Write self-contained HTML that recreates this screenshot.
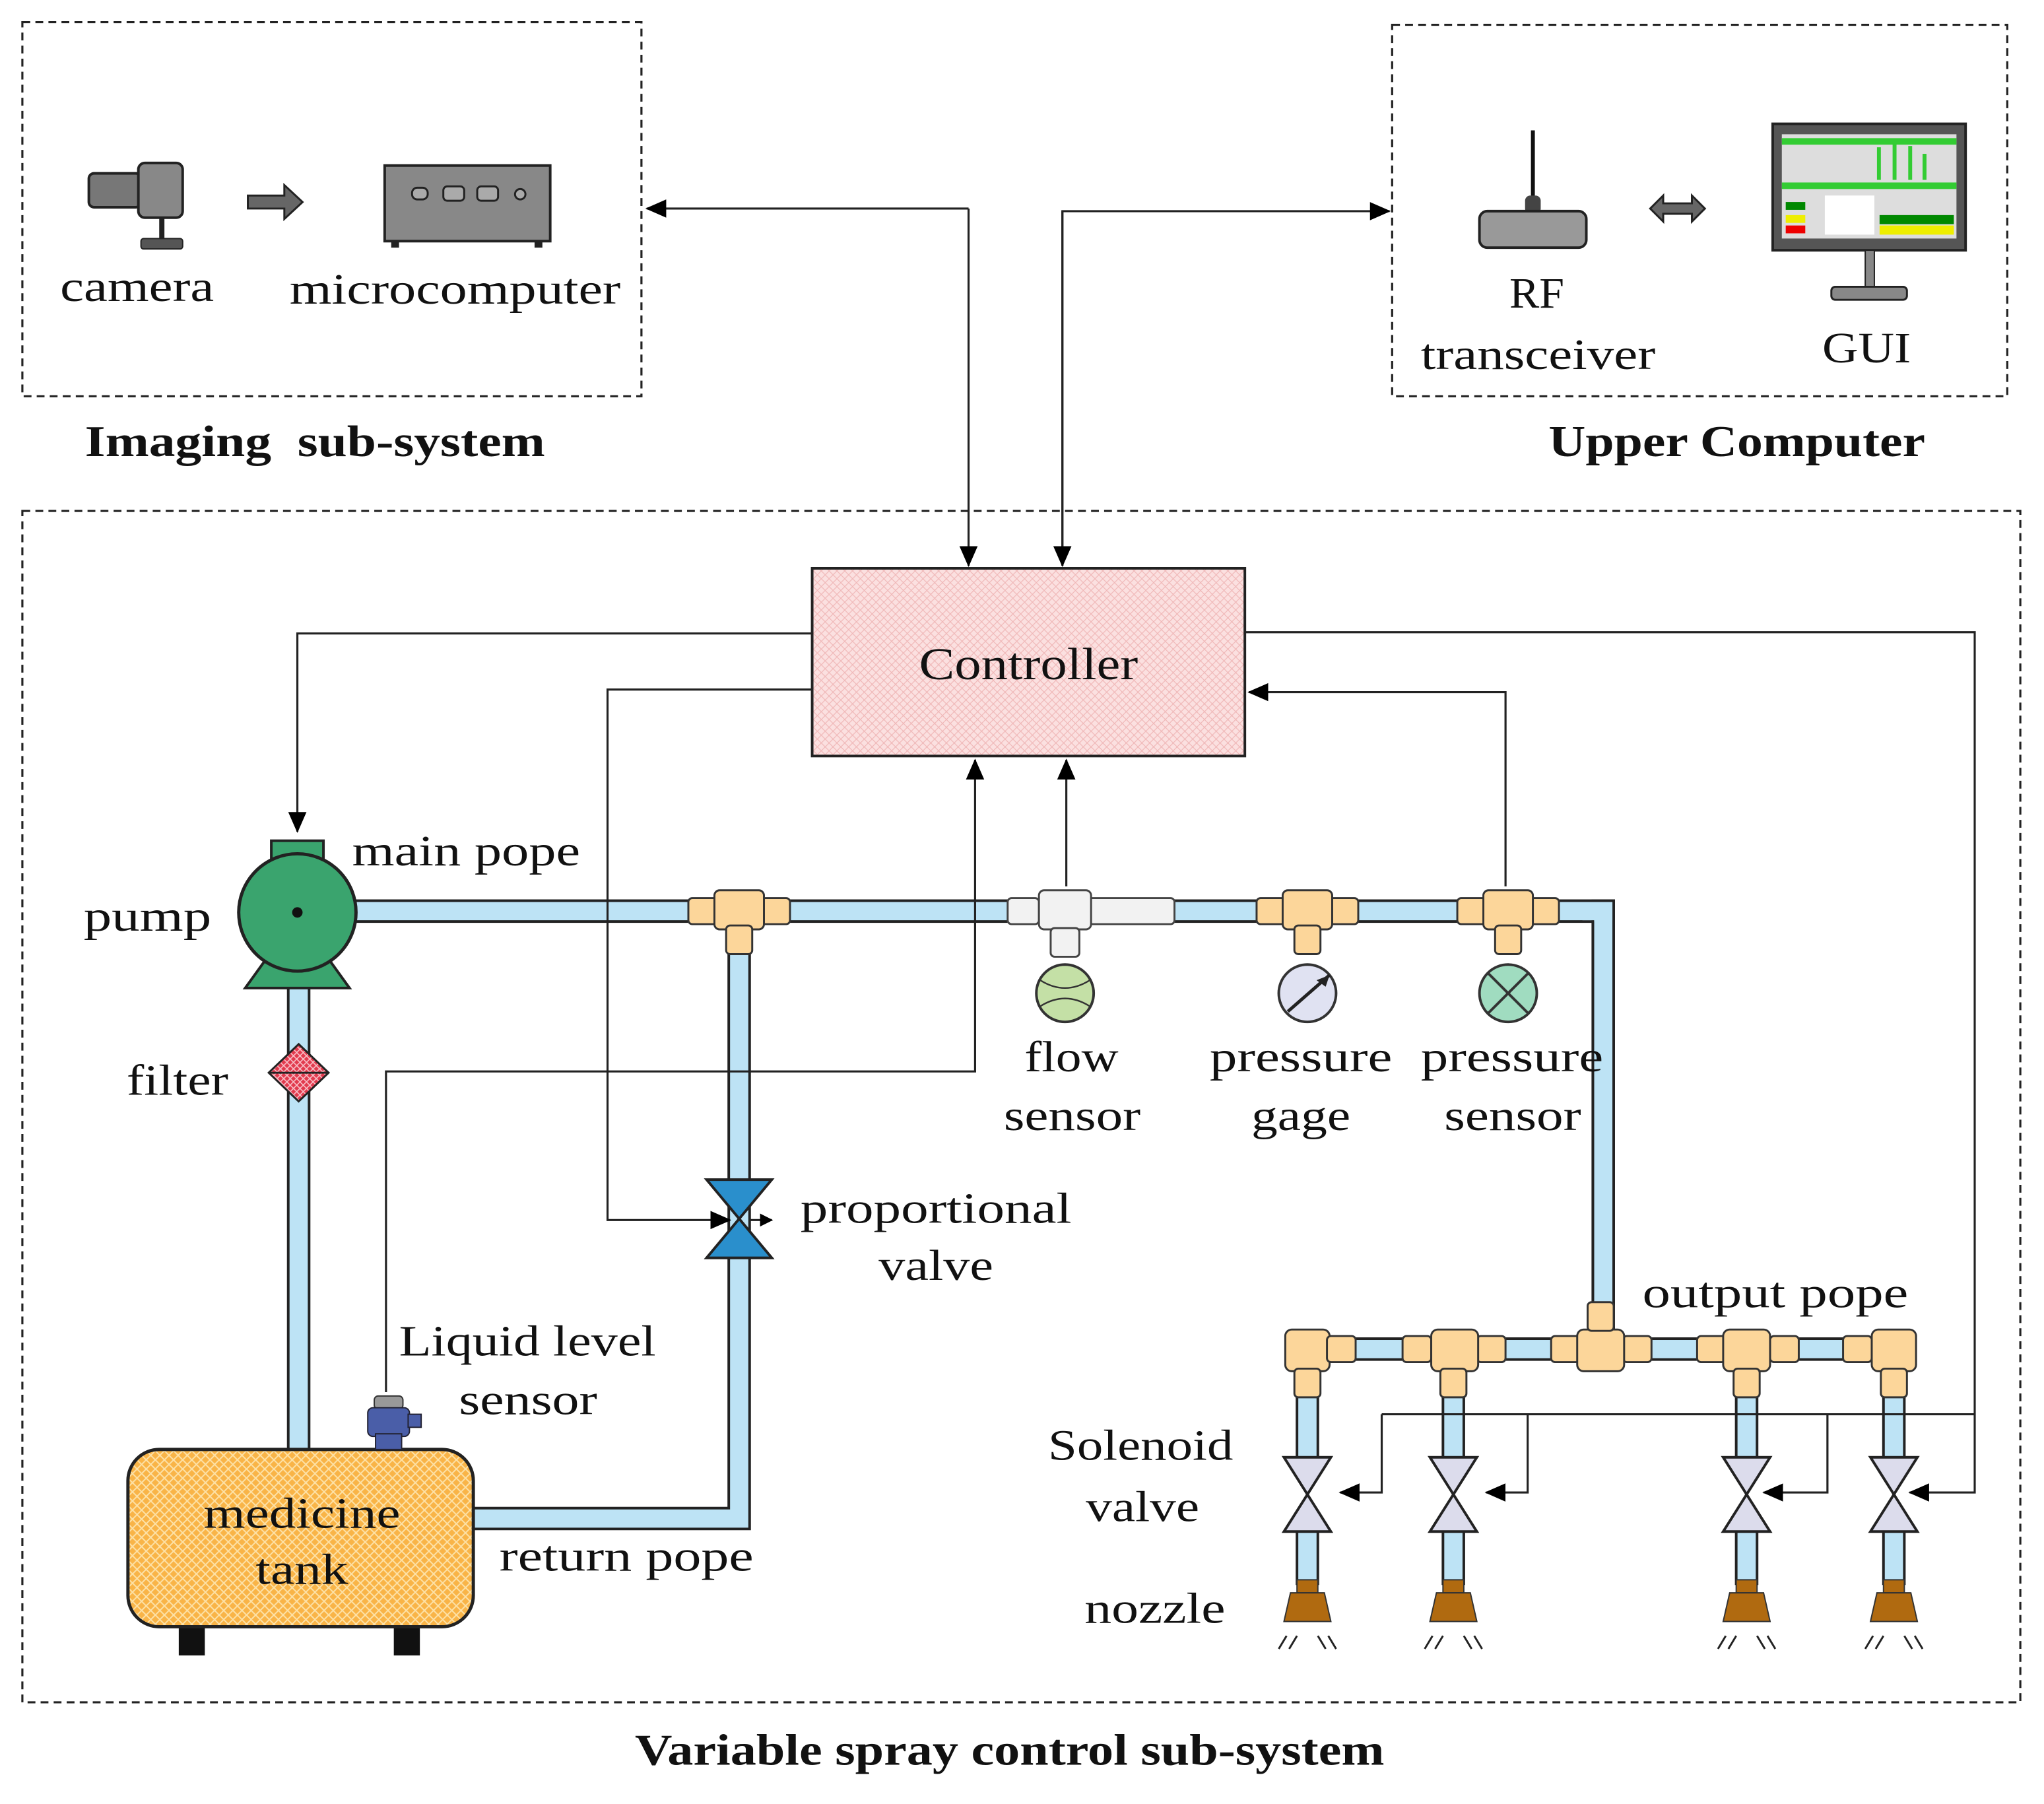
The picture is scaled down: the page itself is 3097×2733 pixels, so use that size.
<!DOCTYPE html>
<html><head><meta charset="utf-8"><style>
html,body{margin:0;padding:0;background:#fff}
svg{display:block}
text{font-family:"Liberation Serif",serif;fill:#111}
</style></head><body>
<svg width="3097" height="2733" viewBox="0 0 1568 1384" xmlns="http://www.w3.org/2000/svg">
<defs>
<marker id="a" markerWidth="10" markerHeight="10" refX="9" refY="5" orient="auto" markerUnits="userSpaceOnUse" viewBox="0 0 10 10"><path d="M0,0L10,5L0,10z" fill="#000"/></marker>
<marker id="b" markerWidth="16" markerHeight="16" refX="15" refY="8" orient="auto" markerUnits="userSpaceOnUse" viewBox="0 0 16 16"><path d="M0,1L16,8L0,15z" fill="#000"/></marker>
<pattern id="ph" width="6" height="6" patternUnits="userSpaceOnUse"><rect width="6" height="6" fill="#fbe0e0"/><path d="M0,0L6,6M6,0L0,6" stroke="#f0b8b8" stroke-width="0.6"/></pattern>
<pattern id="oh" width="7" height="7" patternUnits="userSpaceOnUse"><rect width="7" height="7" fill="#f9b447"/><path d="M0,0L7,7M7,0L0,7" stroke="#fde2a8" stroke-width="1"/></pattern>
<pattern id="rh" width="5" height="5" patternUnits="userSpaceOnUse"><rect width="5" height="5" fill="#e23a4e"/><path d="M0,0L5,5M5,0L0,5" stroke="#f8c0c8" stroke-width="0.8"/></pattern>
<g id="sv">
<path d="M-18,1118h36l-36,57h36z" fill="#dcdcec" stroke="#222" stroke-width="2"/>
<rect x="-8" y="1212" width="16" height="10" fill="#b06a10" stroke="#333" stroke-width="1"/>
<path d="M-13,1222h26l5,22h-36z" fill="#b06a10" stroke="#333" stroke-width="1"/>
<path d="M-22,1265l6,-10M-14,1265l6,-10M22,1265l-6,-10M14,1265l-6,-10" stroke="#222" stroke-width="1.5"/>
</g>
</defs>
<rect width="1568" height="1384" fill="#fff"/>
<g fill="none" stroke="#222" stroke-width="1.6" stroke-dasharray="6,4">
<rect x="17" y="17" width="475" height="287"/>
<rect x="1068" y="19" width="472" height="285"/>
<rect x="17" y="392" width="1533" height="914"/>
</g>
<rect x="68" y="133" width="40" height="26" rx="4" fill="#777" stroke="#222" stroke-width="2"/>
<rect x="106" y="125" width="34" height="42" rx="5" fill="#888" stroke="#222" stroke-width="2"/>
<rect x="122" y="167" width="4" height="18" fill="#222"/>
<rect x="108" y="183" width="32" height="8" rx="2" fill="#555" stroke="#222"/>
<path d="M190,150h28v-8l14,13l-14,13v-8h-28z" fill="#666" stroke="#222" stroke-width="1.5"/>
<rect x="295" y="127" width="127" height="58" fill="#888" stroke="#222" stroke-width="2"/>
<rect x="300" y="185" width="6" height="5" fill="#222"/><rect x="410" y="185" width="6" height="5" fill="#222"/>
<g fill="#aaa" stroke="#222" stroke-width="1.5"><rect x="316" y="144" width="12" height="9" rx="4"/><rect x="340" y="143" width="16" height="11" rx="3"/><rect x="366" y="143" width="16" height="11" rx="3"/><circle cx="399" cy="149" r="4"/></g>
<g font-size="33" lengthAdjust="spacingAndGlyphs">
<text x="46" y="231" textLength="118" lengthAdjust="spacingAndGlyphs">camera</text>
<text x="222" y="233" textLength="254" lengthAdjust="spacingAndGlyphs">microcomputer</text>
<text x="1158" y="236" textLength="42" lengthAdjust="spacingAndGlyphs">RF</text>
<text x="1090" y="283" textLength="180" lengthAdjust="spacingAndGlyphs">transceiver</text>
<text x="1398" y="278" textLength="68" lengthAdjust="spacingAndGlyphs">GUI</text>
</g>
<text x="65" y="350" font-size="34" font-weight="bold" textLength="353" lengthAdjust="spacingAndGlyphs">Imaging&#160; sub-system</text>
<text x="1188" y="350" font-size="34" font-weight="bold" textLength="289" lengthAdjust="spacingAndGlyphs">Upper Computer</text>
<text x="487" y="1354" font-size="34" font-weight="bold" textLength="575" lengthAdjust="spacingAndGlyphs">Variable spray control sub-system</text>
<line x1="1176" y1="100" x2="1176" y2="155" stroke="#111" stroke-width="3"/>
<rect x="1170" y="150" width="12" height="14" rx="4" fill="#444"/>
<rect x="1135" y="162" width="82" height="28" rx="6" fill="#999" stroke="#222" stroke-width="2"/>
<path d="M1266,160l10,-10v6h22v-6l10,10l-10,10v-6h-22v6z" fill="#666" stroke="#222" stroke-width="1.5"/>
<rect x="1360" y="95" width="148" height="97" fill="#555" stroke="#222" stroke-width="2"/>
<rect x="1367" y="103" width="134" height="80" fill="#ddd"/>
<rect x="1367" y="106" width="134" height="5" fill="#3c3"/>
<rect x="1367" y="140" width="134" height="5" fill="#3c3"/>
<rect x="1440" y="113" width="3" height="25" fill="#3c3"/><rect x="1452" y="110" width="3" height="28" fill="#3c3"/><rect x="1464" y="112" width="3" height="26" fill="#3c3"/><rect x="1475" y="118" width="3" height="20" fill="#3c3"/>
<rect x="1400" y="150" width="38" height="30" fill="#fff"/>
<rect x="1370" y="155" width="15" height="6" fill="#080"/><rect x="1370" y="165" width="15" height="6" fill="#ee0"/><rect x="1370" y="173" width="15" height="6" fill="#e00"/>
<rect x="1442" y="165" width="57" height="7" fill="#080"/><rect x="1442" y="173" width="57" height="7" fill="#ee0"/>
<rect x="1431" y="192" width="7" height="30" fill="#888" stroke="#222"/>
<rect x="1405" y="220" width="58" height="10" rx="3" fill="#888" stroke="#222" stroke-width="1.5"/>
<g fill="none" stroke="#222" stroke-width="1.6">
<path d="M743,160H496" marker-end="url(#b)"/>
<path d="M743,160V434" marker-end="url(#b)"/>
<path d="M815,434V162H1066" marker-end="url(#b)"/>
<path d="M815,162V434" marker-end="url(#b)"/>
</g>
<rect x="623" y="436" width="332" height="144" fill="url(#ph)" stroke="#222" stroke-width="2"/>
<text x="705" y="521" font-size="35" textLength="168" lengthAdjust="spacingAndGlyphs">Controller</text>
<g stroke="#222" stroke-width="2" fill="#bde3f5">
<rect x="270" y="691" width="960" height="16"/>
<path d="M1222,691h16v330h-16z"/>
<rect x="1214" y="692" width="23" height="14" stroke="none"/>
<rect x="221" y="755" width="16" height="360"/>
<path d="M559,720h16v453h-212v-16h196z"/>
<rect x="1003" y="1027" width="450" height="16"/>
<rect x="995" y="1060" width="16" height="60"/><rect x="1107" y="1060" width="16" height="60"/><rect x="1332" y="1060" width="16" height="60"/><rect x="1445" y="1060" width="16" height="60"/>
<rect x="995" y="1170" width="16" height="45"/><rect x="1107" y="1170" width="16" height="45"/><rect x="1332" y="1170" width="16" height="45"/><rect x="1445" y="1170" width="16" height="45"/>
</g>
<line x1="1222" y1="707" x2="1222" y2="1021" stroke="#222" stroke-width="2"/>
<rect x="208" y="645" width="40" height="15" fill="#3aa46e" stroke="#222" stroke-width="2"/>
<path d="M188,758l18,-25h44l18,25z" fill="#3aa46e" stroke="#222" stroke-width="2"/>
<circle cx="228" cy="700" r="45" fill="#3aa46e" stroke="#222" stroke-width="2.5"/>
<circle cx="228" cy="700" r="4" fill="#111"/>
<path d="M229,801l23,22l-23,22l-23,-22z" fill="url(#rh)" stroke="#222" stroke-width="1.5"/>
<line x1="206" y1="823" x2="252" y2="823" stroke="#222" stroke-width="1.5"/>
<g fill="#fcd69a" stroke="#333" stroke-width="1.5">
<rect x="528" y="689" width="22" height="20" rx="3"/><rect x="584" y="689" width="22" height="20" rx="3"/><rect x="548" y="683" width="38" height="30" rx="4"/><rect x="557" y="710" width="20" height="22" rx="3"/>
<rect x="964" y="689" width="22" height="20" rx="3"/><rect x="1020" y="689" width="22" height="20" rx="3"/><rect x="984" y="683" width="38" height="30" rx="4"/><rect x="993" y="710" width="20" height="22" rx="3"/>
<rect x="1118" y="689" width="22" height="20" rx="3"/><rect x="1174" y="689" width="22" height="20" rx="3"/><rect x="1138" y="683" width="38" height="30" rx="4"/><rect x="1147" y="710" width="20" height="22" rx="3"/>
</g>
<g fill="#f2f2f2" stroke="#444" stroke-width="1.5">
<rect x="773" y="689" width="24" height="20" rx="3"/><rect x="835" y="689" width="66" height="20" rx="3"/><rect x="797" y="683" width="40" height="30" rx="4"/><rect x="806" y="712" width="22" height="22" rx="3"/>
</g>
<circle cx="817" cy="762" r="22" fill="#c4e0a6" stroke="#333" stroke-width="2"/>
<path d="M798,752q19,12 38,0M798,772q19,-12 38,0" fill="none" stroke="#333" stroke-width="1.2"/>
<circle cx="1003" cy="762" r="22" fill="#e0e2f2" stroke="#333" stroke-width="2"/>
<path d="M988,776L1020,748" stroke="#222" stroke-width="2.5"/><path d="M1010,752l10,-4l-3,9z" fill="#222"/>
<circle cx="1157" cy="762" r="22" fill="#a0dcc0" stroke="#333" stroke-width="2"/>
<path d="M1142,747L1172,777M1172,747L1142,777" stroke="#333" stroke-width="2"/>
<path d="M542,905h50l-50,60h50z" fill="#2a8fcc" stroke="#222" stroke-width="2"/>
<rect x="137" y="1244" width="20" height="26" fill="#111"/><rect x="302" y="1244" width="20" height="26" fill="#111"/>
<rect x="98" y="1112" width="265" height="136" rx="24" fill="url(#oh)" stroke="#222" stroke-width="2.5"/>
<rect x="287" y="1071" width="22" height="10" rx="3" fill="#999" stroke="#333"/>
<rect x="282" y="1080" width="32" height="22" rx="4" fill="#4a5ea8" stroke="#223"/>
<rect x="313" y="1085" width="10" height="10" fill="#4a5ea8" stroke="#223"/>
<rect x="288" y="1100" width="20" height="12" fill="#4a5ea8" stroke="#223"/>
<g fill="#fcd69a" stroke="#333" stroke-width="1.5">
<rect x="986" y="1020" width="34" height="32" rx="5"/><rect x="1018" y="1025" width="22" height="20" rx="3"/><rect x="993" y="1050" width="20" height="22" rx="3"/>
<rect x="1076" y="1025" width="22" height="20" rx="3"/><rect x="1133" y="1025" width="22" height="20" rx="3"/><rect x="1098" y="1020" width="36" height="32" rx="5"/><rect x="1105" y="1050" width="20" height="22" rx="3"/>
<rect x="1190" y="1025" width="22" height="20" rx="3"/><rect x="1245" y="1025" width="22" height="20" rx="3"/><rect x="1210" y="1020" width="36" height="32" rx="5"/><rect x="1218" y="999" width="20" height="22" rx="3"/>
<rect x="1302" y="1025" width="22" height="20" rx="3"/><rect x="1358" y="1025" width="22" height="20" rx="3"/><rect x="1322" y="1020" width="36" height="32" rx="5"/><rect x="1330" y="1050" width="20" height="22" rx="3"/>
<rect x="1414" y="1025" width="22" height="20" rx="3"/><rect x="1436" y="1020" width="34" height="32" rx="5"/><rect x="1443" y="1050" width="20" height="22" rx="3"/>
</g>
<use href="#sv" x="1003"/><use href="#sv" x="1115"/><use href="#sv" x="1340"/><use href="#sv" x="1453"/>
<g fill="none" stroke="#222" stroke-width="1.6">
<path d="M623,486H228V638" marker-end="url(#b)"/>
<path d="M623,529H466V936H560" marker-end="url(#b)"/>
<path d="M296,1068V822H748V583" marker-end="url(#b)"/>
<path d="M818,680V583" marker-end="url(#b)"/>
<path d="M1155,680V531H958" marker-end="url(#b)"/>
<path d="M955,485H1515V1145H1465" marker-end="url(#b)"/>
<path d="M1060,1085H1515"/>
<path d="M1060,1085V1145H1028" marker-end="url(#b)"/>
<path d="M1172,1085V1145H1140" marker-end="url(#b)"/>
<path d="M1402,1085V1145H1353" marker-end="url(#b)"/>
<path d="M575,936H592" marker-end="url(#a)"/>
</g>
<g font-size="33">
<text x="270" y="664" textLength="175" lengthAdjust="spacingAndGlyphs">main pope</text>
<text x="64" y="714" textLength="98" lengthAdjust="spacingAndGlyphs">pump</text>
<text x="97" y="840" textLength="78" lengthAdjust="spacingAndGlyphs">filter</text>
<text x="786" y="822" textLength="72" lengthAdjust="spacingAndGlyphs">flow</text>
<text x="770" y="867" textLength="105" lengthAdjust="spacingAndGlyphs">sensor</text>
<text x="928" y="822" textLength="140" lengthAdjust="spacingAndGlyphs">pressure</text>
<text x="960" y="867" textLength="76" lengthAdjust="spacingAndGlyphs">gage</text>
<text x="1090" y="822" textLength="140" lengthAdjust="spacingAndGlyphs">pressure</text>
<text x="1108" y="867" textLength="105" lengthAdjust="spacingAndGlyphs">sensor</text>
<text x="614" y="938" textLength="208" lengthAdjust="spacingAndGlyphs">proportional</text>
<text x="674" y="982" textLength="88" lengthAdjust="spacingAndGlyphs">valve</text>
<text x="306" y="1040" textLength="197" lengthAdjust="spacingAndGlyphs">Liquid level</text>
<text x="352" y="1085" textLength="106" lengthAdjust="spacingAndGlyphs">sensor</text>
<text x="156" y="1172" textLength="151" lengthAdjust="spacingAndGlyphs">medicine</text>
<text x="196" y="1215" textLength="71" lengthAdjust="spacingAndGlyphs">tank</text>
<text x="383" y="1205" textLength="195" lengthAdjust="spacingAndGlyphs">return pope</text>
<text x="1260" y="1003" textLength="204" lengthAdjust="spacingAndGlyphs">output pope</text>
<text x="804" y="1120" textLength="142" lengthAdjust="spacingAndGlyphs">Solenoid</text>
<text x="833" y="1167" textLength="87" lengthAdjust="spacingAndGlyphs">valve</text>
<text x="832" y="1245" textLength="108" lengthAdjust="spacingAndGlyphs">nozzle</text>
</g>
</svg>
</body></html>
